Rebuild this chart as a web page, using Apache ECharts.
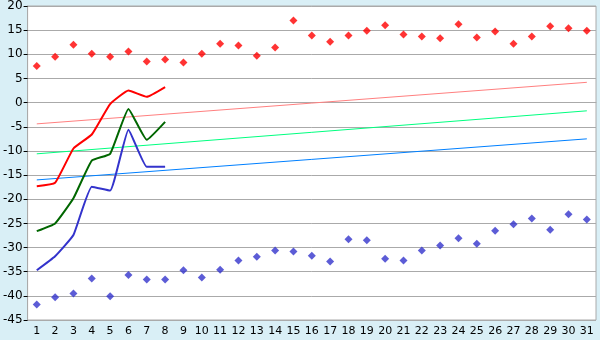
<!DOCTYPE html>
<html><head><meta charset="utf-8">
<style>html,body{margin:0;padding:0;background:#d9eff6;}#c{width:600px;height:340px;}</style>
<script src="https://cdn.jsdelivr.net/npm/echarts@6/dist/echarts.min.js"></script>
</head><body><div id="c"></div>
<script>
var categories = ['1','2','3','4','5','6','7','8','9','10','11','12','13','14','15','16','17','18','19','20','21','22','23','24','25','26','27','28','29','30','31'];
var redLine = [-17.3, -16.6, -9.5, -6.6, -0.3, 2.5, 1.2, 3.2];
var greenLine = [-26.6, -25.0, -19.8, -12.0, -10.6, -1.3, -7.7, -4.0];
var blueLine = [-34.7, -31.8, -27.4, -17.4, -18.2, -5.6, -13.3, -13.3];
var redPoints = [7.6, 9.5, 12.0, 10.1, 9.5, 10.6, 8.5, 8.9, 8.3, 10.1, 12.2, 11.8, 9.7, 11.4, 17.0, 13.9, 12.6, 13.9, 14.9, 16.0, 14.1, 13.7, 13.3, 16.2, 13.5, 14.7, 12.2, 13.7, 15.8, 15.4, 14.9];
var bluePoints = [-41.8, -40.3, -39.5, -36.4, -40.1, -35.7, -36.6, -36.6, -34.7, -36.2, -34.6, -32.7, -31.9, -30.6, -30.8, -31.7, -32.9, -28.3, -28.5, -32.3, -32.7, -30.6, -29.6, -28.1, -29.2, -26.5, -25.2, -24.0, -26.3, -23.1, -24.2];
var redTrendEnds = [-4.4, 4.2];
var greenTrendEnds = [-10.6, -1.7];
var blueTrendEnds = [-16.0, -7.5];
var yTicks = [20, 15, 10, 5, 0, -5, -10, -15, -20, -25, -30, -35, -40, -45];

function trend(ends){
  var a = categories.map(function(){return null;});
  a[0] = ends[0]; a[a.length-1] = ends[1];
  return a;
}
var chart = echarts.init(document.getElementById('c'));
var font = 'DejaVu Sans';
chart.setOption({
  backgroundColor: '#d9eff6',
  animation: false,
  grid: {left: 27, right: 4, top: 5, bottom: 20, show: true, backgroundColor: '#ffffff', borderColor: '#aaaaaa', borderWidth: 1},
  xAxis: {
    type: 'category', data: categories, boundaryGap: true,
    axisLine: {lineStyle: {color: '#aaaaaa'}},
    axisTick: {alignWithLabel: true, length: 5, lineStyle: {color: '#000'}},
    axisLabel: {color: '#000', fontFamily: font, fontSize: 11, margin: 6, interval: 0},
    splitLine: {show: false}
  },
  yAxis: {
    type: 'value', min: yTicks[yTicks.length-1], max: yTicks[0], interval: 5,
    axisLine: {show: true, lineStyle: {color: '#aaaaaa'}},
    axisTick: {show: true, length: 4, lineStyle: {color: '#000'}},
    axisLabel: {color: '#000', fontFamily: font, fontSize: 12, margin: 5},
    splitLine: {lineStyle: {color: '#aaaaaa', width: 1}}
  },
  series: [
    {type: 'line', data: trend(redTrendEnds), connectNulls: true, symbol: 'none', lineStyle: {color: '#ff8080', width: 1}},
    {type: 'line', data: trend(greenTrendEnds), connectNulls: true, symbol: 'none', lineStyle: {color: '#00ff80', width: 1}},
    {type: 'line', data: trend(blueTrendEnds), connectNulls: true, symbol: 'none', lineStyle: {color: '#0080ff', width: 1}},
    {type: 'line', data: redLine, smooth: 0.12, symbol: 'none', lineStyle: {color: '#ff0000', width: 2}},
    {type: 'line', data: greenLine, smooth: 0.12, symbol: 'none', lineStyle: {color: '#006600', width: 2}},
    {type: 'line', data: blueLine, smooth: 0.12, symbol: 'none', lineStyle: {color: '#3333cc', width: 2}},
    {type: 'scatter', data: redPoints, symbol: 'diamond', symbolSize: 8, itemStyle: {color: '#ff0000'}},
    {type: 'scatter', data: bluePoints, symbol: 'diamond', symbolSize: 8, itemStyle: {color: '#3333cc'}}
  ]
});
</script></body></html>
